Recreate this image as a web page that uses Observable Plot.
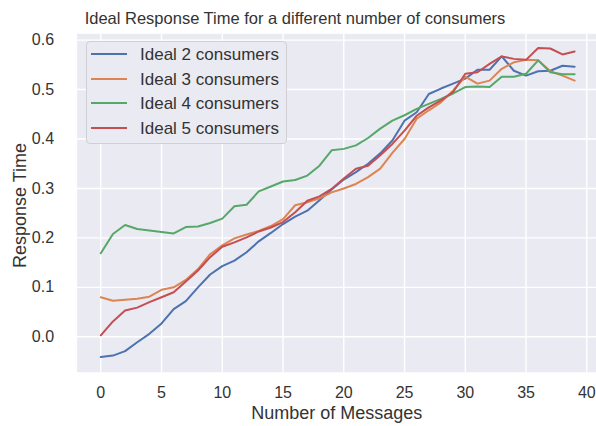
<!DOCTYPE html>
<html>
<head>
<meta charset="utf-8">
<script src="https://cdn.jsdelivr.net/npm/d3@7"></script>
<script src="https://cdn.jsdelivr.net/npm/@observablehq/plot@0.6"></script>
<style>
  body { margin: 0; background: #fff; font-family: "Liberation Sans", Arial, sans-serif; }
  #chart { position: relative; width: 596px; height: 426px; overflow: hidden; }
  #title { position: relative; height: 30px; }
  #title span { position: absolute; left: 295px; top: 9.5px; transform: translateX(-50%);
    font-size: 16.5px; line-height: 16.5px; white-space: nowrap; color: #333; }
  #plot svg { display: block; }
  #legend { position: absolute; left: 86px; top: 41px; width: 201px; height: 103px;
    background: #eaeaf2; border: 1px solid #cfcfd4; border-radius: 4px; box-sizing: border-box; }
  .entry { position: absolute; height: 17px; font-size: 17px; line-height: 17px; color: #333; white-space: nowrap; }
  .swatch { position: absolute; height: 2px; width: 36px; }
</style>
</head>
<body>
<div id="chart">
  <div id="title"><span>Ideal Response Time for a different number of consumers</span></div>
  <div id="plot"></div>
  <div id="legend"></div>
</div>
<script>
// Number of messages sent (x axis)
const messages = d3.range(0, 40);

// Series names and colours
const seriesNames = ["Ideal 2 consumers", "Ideal 3 consumers", "Ideal 4 consumers", "Ideal 5 consumers"];
const seriesColors = ["#4c72b0", "#dd8452", "#55a868", "#c44e52"];

// Response times per series, one value per message count
const ideal2 = [-0.041, -0.038, -0.029, -0.011, 0.006, 0.027, 0.056, 0.072, 0.100, 0.126,
  0.143, 0.154, 0.171, 0.193, 0.210, 0.228, 0.243, 0.255, 0.276, 0.298,
  0.318, 0.333, 0.350, 0.371, 0.397, 0.437, 0.454, 0.491, 0.502, 0.512,
  0.522, 0.540, 0.540, 0.567, 0.538, 0.528, 0.537, 0.538, 0.548, 0.546];
const ideal3 = [0.080, 0.073, 0.075, 0.077, 0.081, 0.095, 0.100, 0.115, 0.137, 0.167,
  0.185, 0.199, 0.207, 0.214, 0.224, 0.238, 0.266, 0.272, 0.280, 0.292,
  0.300, 0.309, 0.323, 0.340, 0.372, 0.400, 0.441, 0.458, 0.474, 0.498,
  0.526, 0.512, 0.518, 0.542, 0.555, 0.560, 0.559, 0.537, 0.528, 0.518];
const ideal4 = [0.169, 0.208, 0.226, 0.218, 0.215, 0.212, 0.209, 0.222, 0.223, 0.230,
  0.239, 0.264, 0.267, 0.294, 0.304, 0.314, 0.317, 0.326, 0.346, 0.377,
  0.380, 0.387, 0.402, 0.421, 0.437, 0.448, 0.461, 0.471, 0.481, 0.492,
  0.505, 0.506, 0.505, 0.526, 0.526, 0.532, 0.559, 0.535, 0.531, 0.531];
const ideal5 = [0.003, 0.031, 0.053, 0.059, 0.070, 0.080, 0.090, 0.112, 0.134, 0.161,
  0.182, 0.191, 0.201, 0.213, 0.221, 0.232, 0.252, 0.275, 0.284, 0.299,
  0.320, 0.340, 0.346, 0.367, 0.390, 0.417, 0.447, 0.464, 0.478, 0.495,
  0.532, 0.535, 0.552, 0.567, 0.562, 0.560, 0.584, 0.583, 0.571, 0.577];

const xTicks = [0, 5, 10, 15, 20, 25, 30, 35, 40];
const yTicks = [0.0, 0.1, 0.2, 0.3, 0.4, 0.5, 0.6];

const seriesValues = [ideal2, ideal3, ideal4, ideal5];
const rows = seriesNames.flatMap((name, s) =>
  messages.map((m, i) => ({series: name, messages: m, time: seriesValues[s][i]})));

const chart = Plot.plot({
  width: 596,
  height: 396,
  marginLeft: 76.6,
  marginRight: 0,
  marginTop: 3.3,
  marginBottom: 54.3,
  style: {fontFamily: '"Liberation Sans", Arial, sans-serif', color: "#333", background: "transparent"},
  x: {domain: [-1.95, 40.8]},
  y: {domain: [-0.0716, 0.6127]},
  color: {domain: seriesNames, range: seriesColors},
  marks: [
    Plot.frame({fill: "#eaeaf2", stroke: null}),
    Plot.gridX(xTicks, {stroke: "#fff", strokeOpacity: 1, strokeWidth: 1.4}),
    Plot.gridY(yTicks, {stroke: "#fff", strokeOpacity: 1, strokeWidth: 1.4}),
    Plot.axisX(xTicks, {tickSize: 0, tickPadding: 14, fontSize: 16, label: null}),
    Plot.axisY(yTicks, {tickSize: 0, tickPadding: 23, fontSize: 16, tickFormat: d3.format(".1f"), label: null}),
    Plot.text(["Number of Messages"], {frameAnchor: "bottom", lineAnchor: "middle", textAnchor: "middle", dy: 41.5, fontSize: 18, fill: "#333"}),
    Plot.text(["Response Time"], {frameAnchor: "left", lineAnchor: "middle", textAnchor: "middle", dx: -57, dy: 2.5, rotate: -90, fontSize: 18, fill: "#333"}),
    Plot.line(rows, {x: "messages", y: "time", z: "series", stroke: "series", strokeWidth: 2, curve: "linear"})
  ]
});
document.getElementById("plot").appendChild(chart);

// Legend entries built from the series list
const chartBox = document.getElementById("chart");
seriesNames.forEach((name, i) => {
  const cy = 54 + i * 24.55;
  const sw = document.createElement("div");
  sw.className = "swatch";
  sw.style.left = "90.7px";
  sw.style.top = (cy - 1) + "px";
  sw.style.background = seriesColors[i];
  chartBox.appendChild(sw);
  const label = document.createElement("div");
  label.className = "entry";
  label.style.left = "140px";
  label.style.top = (cy - 8) + "px";
  label.textContent = name;
  chartBox.appendChild(label);
});
</script>
</body>
</html>
